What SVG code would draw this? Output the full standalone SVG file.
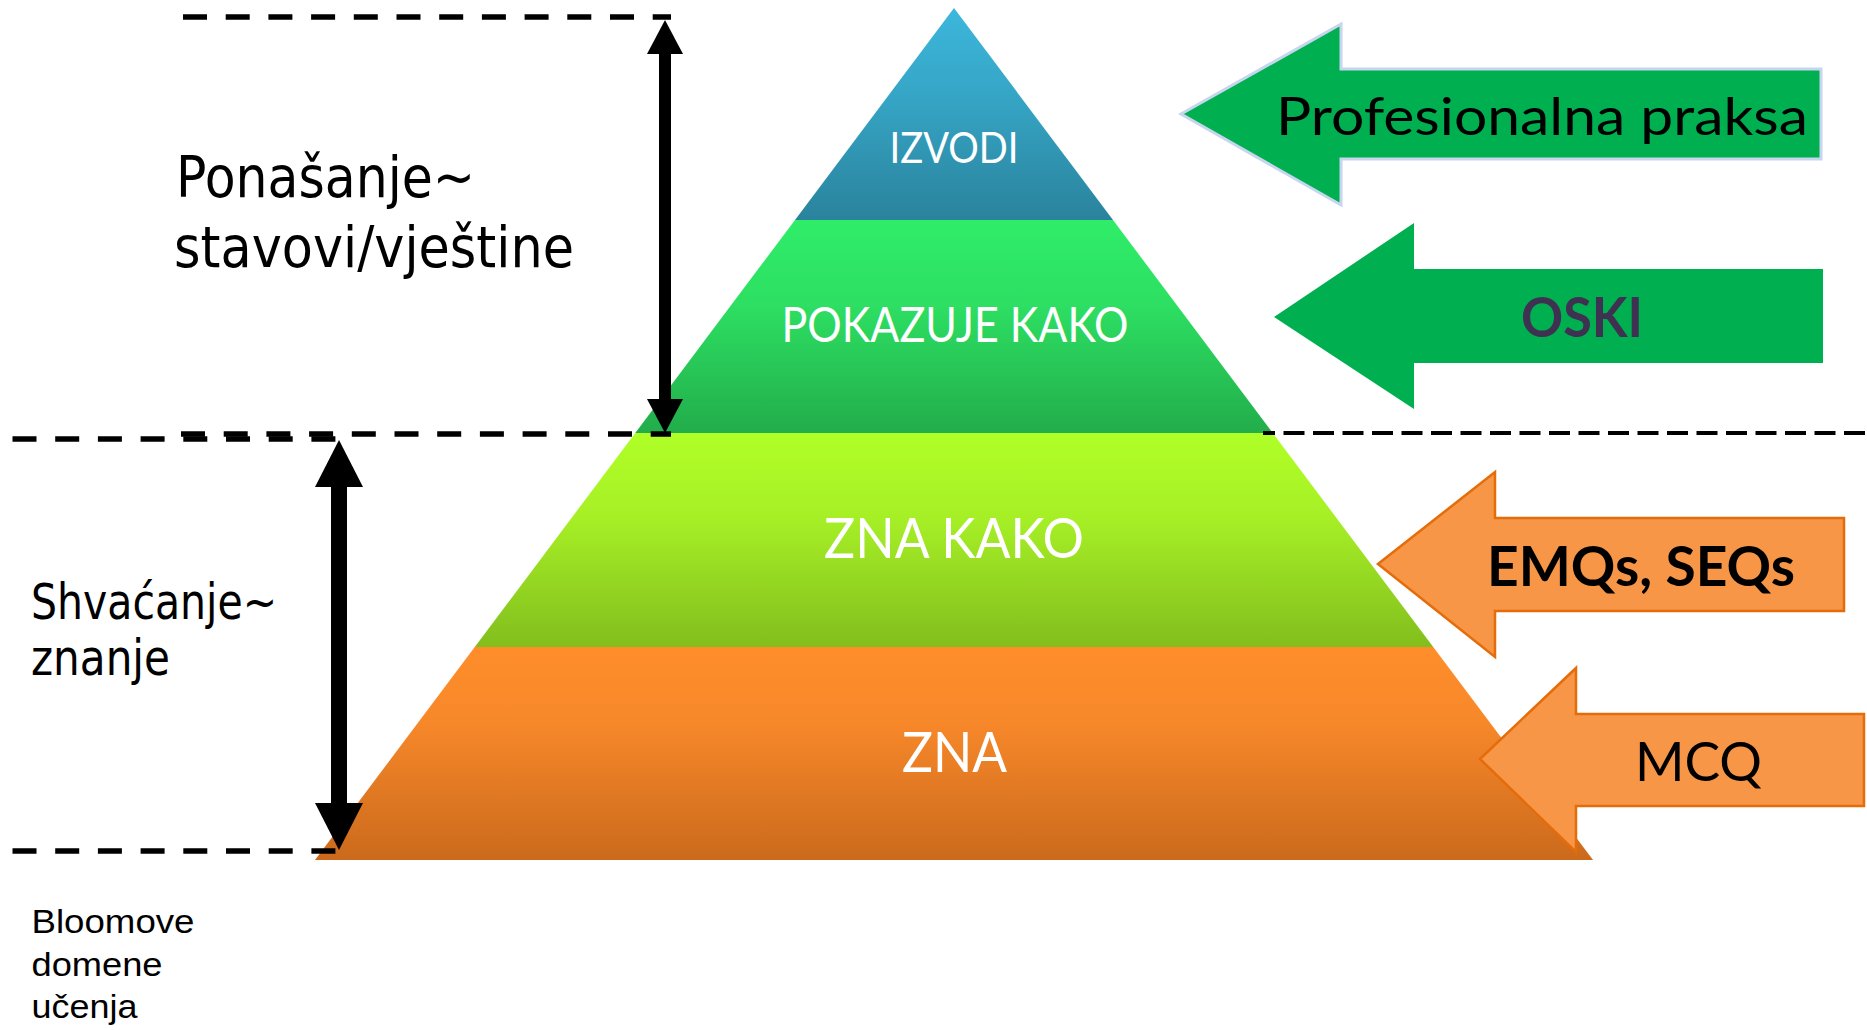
<svg xmlns="http://www.w3.org/2000/svg" width="1867" height="1030" viewBox="0 0 1867 1030">
<style>
.cal{font-family:Lato,"Open Sans","Noto Sans",sans-serif;}
.tah{font-family:"DejaVu Sans","Noto Sans",sans-serif;fill:#000;}
.ari{font-family:"Liberation Sans",Arial,sans-serif;fill:#000;font-size:34px;}
.pw{fill:#fff;}
.dashk{stroke:#000;fill:none;stroke-width:5.5;stroke-dasharray:24 18.7;}
.dasht{stroke:#000;fill:none;stroke-width:4;stroke-dasharray:21 8.5;}
.garr{fill:#00b050;}
.oarr{fill:#f79646;stroke:#e46c0a;stroke-width:2.5;}
</style>
<defs>
<linearGradient id="gBlue" x1="0" y1="0" x2="0" y2="1">
<stop offset="0" stop-color="#3cb7dc"/>
<stop offset="0.4" stop-color="#36a6c6"/>
<stop offset="1" stop-color="#2a839d"/>
</linearGradient>
<linearGradient id="gGreen" x1="0" y1="0" x2="0" y2="1">
<stop offset="0" stop-color="#2fed69"/>
<stop offset="0.4" stop-color="#2ddf62"/>
<stop offset="1" stop-color="#22ad4b"/>
</linearGradient>
<linearGradient id="gLime" x1="0" y1="0" x2="0" y2="1">
<stop offset="0" stop-color="#b0ff27"/>
<stop offset="0.4" stop-color="#a6ef26"/>
<stop offset="1" stop-color="#82be1d"/>
</linearGradient>
<linearGradient id="gOrange" x1="0" y1="0" x2="0" y2="1">
<stop offset="0" stop-color="#ff8d2a"/>
<stop offset="0.35" stop-color="#f7882a"/>
<stop offset="1" stop-color="#cb6a1c"/>
</linearGradient>
<marker id="hTop" viewBox="0 0 34 36" refX="0" refY="18" markerWidth="34" markerHeight="36" markerUnits="userSpaceOnUse" orient="auto-start-reverse">
<path d="M0,0 L34,18 L0,36 Z" fill="#000"/>
</marker>
<marker id="hLeft" viewBox="0 0 47 48" refX="0" refY="24" markerWidth="47" markerHeight="48" markerUnits="userSpaceOnUse" orient="auto-start-reverse">
<path d="M0,0 L47,24 L0,48 Z" fill="#000"/>
</marker>
</defs>
<rect width="1867" height="1030" fill="#fff"/>

<g id="level-izvodi">
<polygon points="954,8 1113,220 795,220" fill="url(#gBlue)"/>
<text class="cal pw" x="954" y="163" font-size="42" text-anchor="middle" textLength="129" lengthAdjust="spacingAndGlyphs">IZVODI</text>
</g>
<g id="level-pokazuje">
<polygon points="795,220 1113,220 1272.75,433 635.25,433" fill="url(#gGreen)"/>
<text class="cal pw" x="955" y="342" font-size="47.5" text-anchor="middle" textLength="347" lengthAdjust="spacingAndGlyphs">POKAZUJE KAKO</text>
</g>
<g id="level-znakako">
<polygon points="635.25,433 1272.75,433 1433.25,647 474.75,647" fill="url(#gLime)"/>
<text class="cal pw" x="954" y="558" font-size="56" text-anchor="middle" textLength="260" lengthAdjust="spacingAndGlyphs">ZNA KAKO</text>
</g>
<g id="level-zna">
<polygon points="474.75,647 1433.25,647 1593,860 315,860" fill="url(#gOrange)"/>
<text class="cal pw" x="954.5" y="772" font-size="56" text-anchor="middle" textLength="105" lengthAdjust="spacingAndGlyphs">ZNA</text>
</g>

<g id="arrow-profesionalna">
<polygon class="garr" points="1181,114 1341,24 1341,69 1821,69 1821,159 1341,159 1341,205" stroke="#c6d6ef" stroke-width="3"/>
<text class="cal" x="1276" y="135" font-size="53" fill="#000" textLength="532" lengthAdjust="spacingAndGlyphs">Profesionalna praksa</text>
</g>
<g id="arrow-oski">
<polygon class="garr" points="1274,317 1414,223 1414,269 1823,269 1823,363 1414,363 1414,409"/>
<text class="cal" x="1521" y="337" font-size="56" font-weight="bold" fill="#3f3151" textLength="122" lengthAdjust="spacingAndGlyphs">OSKI</text>
</g>
<g id="arrow-emqs">
<polygon class="oarr" points="1378,564 1495,472 1495,518 1844,518 1844,611 1495,611 1495,657"/>
<text class="cal" x="1487" y="586" font-size="56" font-weight="bold" fill="#000" textLength="308" lengthAdjust="spacingAndGlyphs">EMQs, SEQs</text>
</g>
<g id="arrow-mcq">
<polygon class="oarr" points="1480,759 1576,668 1576,714 1864,714 1864,806 1576,806 1576,852"/>
<text class="cal" x="1635" y="781" font-size="54" fill="#000" textLength="127" lengthAdjust="spacingAndGlyphs">MCQ</text>
</g>

<g id="label-ponasanje">
<text class="tah" x="176" y="197" font-size="57" textLength="299" lengthAdjust="spacingAndGlyphs">Ponašanje~</text>
<text class="tah" x="174" y="267" font-size="57" textLength="400" lengthAdjust="spacingAndGlyphs">stavovi/vještine</text>
</g>
<g id="label-shvacanje">
<text class="tah" x="31" y="619" font-size="49" textLength="246" lengthAdjust="spacingAndGlyphs">Shvaćanje~</text>
<text class="tah" x="31" y="675" font-size="49" textLength="139" lengthAdjust="spacingAndGlyphs">znanje</text>
</g>
<g id="label-bloom">
<text class="ari" x="31.5" y="933" textLength="163" lengthAdjust="spacingAndGlyphs">Bloomove</text>
<text class="ari" x="31.5" y="976" textLength="131" lengthAdjust="spacingAndGlyphs">domene</text>
<text class="ari" x="31.5" y="1018" textLength="106" lengthAdjust="spacingAndGlyphs">učenja</text>
</g>

<g id="connectors">
<line class="dashk" x1="183" y1="17" x2="671" y2="17"/>
<line class="dashk" x1="181" y1="434" x2="671" y2="434"/>
<line class="dashk" x1="12.5" y1="439" x2="353" y2="439"/>
<line class="dashk" x1="12.5" y1="851" x2="353" y2="851"/>
<line class="dasht" x1="1263" y1="433" x2="1867" y2="433" stroke-dashoffset="9"/>
<line x1="665" y1="54" x2="665" y2="399" stroke="#000" stroke-width="12" marker-start="url(#hTop)" marker-end="url(#hTop)"/>
<line x1="339" y1="487" x2="339" y2="803" stroke="#000" stroke-width="16" marker-start="url(#hLeft)" marker-end="url(#hLeft)"/>
</g>
</svg>
